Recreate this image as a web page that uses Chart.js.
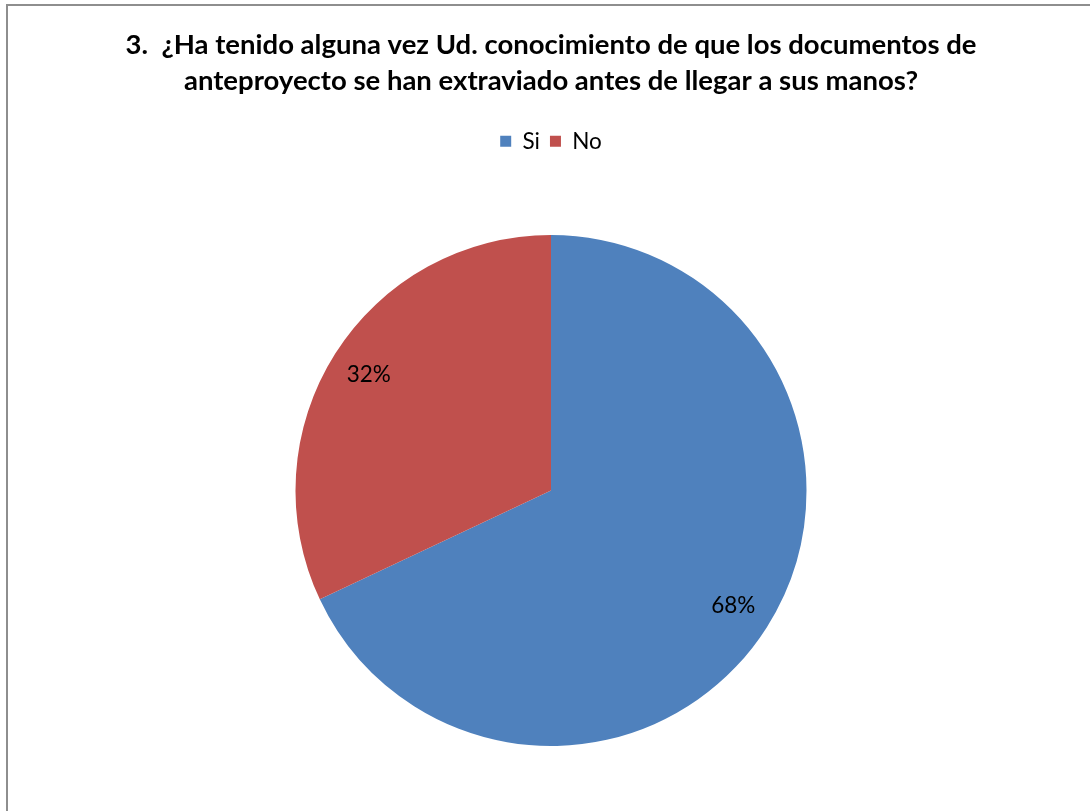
<!DOCTYPE html>
<html>
<head>
<meta charset="utf-8">
<script src="https://cdn.jsdelivr.net/npm/chart.js@4"></script>
<style>
  html, body { margin: 0; padding: 0; background: #fff; }
  #wrap { position: relative; width: 1090px; height: 811px; overflow: hidden; }
  #frame { position: absolute; left: 6px; top: 4px; width: 1200px; height: 900px;
           border-left: 2px solid #8e8e8e; border-top: 2px solid #8e8e8e; }
  canvas { position: absolute; left: 0; top: 0; }
</style>
</head>
<body>
<div id="wrap">
  <div id="frame"></div>
  <canvas id="chart" width="1090" height="811"></canvas>
</div>
<script>
// ── Data ─────────────────────────────────────────────────
const titleLines = [
  '3.  ¿Ha tenido alguna vez Ud. conocimiento de que los documentos de',
  'anteproyecto se han extraviado antes de llegar a sus manos?'
];
const categories = ['Si', 'No'];
const percents   = [68, 32];
const colors     = ['#4F81BD', '#C0504D'];

// ── Plugins ──────────────────────────────────────────────
// extra gap under the legend
const legendGap = {
  id: 'legendGap',
  beforeInit(chart) {
    const fit = chart.legend.fit;
    chart.legend.fit = function () { fit.bind(chart.legend)(); this.height += 72.5; };
  }
};

// percent labels inside the slices
const sliceLabels = {
  id: 'sliceLabels',
  afterDatasetsDraw(chart) {
    const { ctx } = chart;
    const meta = chart.getDatasetMeta(0);
    ctx.save();
    ctx.font = '22.5px Lato, "Open Sans", sans-serif';
    ctx.fillStyle = '#000';
    ctx.textAlign = 'center';
    ctx.textBaseline = 'middle';
    meta.data.forEach((arc, i) => {
      const p = arc.getProps(['x', 'y', 'startAngle', 'endAngle', 'outerRadius'], true);
      const mid = (p.startAngle + p.endAngle) / 2;
      const r = p.outerRadius * 0.845;
      ctx.fillText(percents[i] + '%', p.x + Math.cos(mid) * r, p.y + Math.sin(mid) * r);
    });
    ctx.restore();
  }
};

new Chart(document.getElementById('chart'), {
  type: 'pie',
  data: {
    labels: categories,
    datasets: [{ data: percents, backgroundColor: colors, borderWidth: 0 }]
  },
  options: {
    responsive: false,
    animation: false,
    layout: { padding: { left: 12, right: 0, top: 0, bottom: 65 } },
    plugins: {
      title: {
        display: true,
        text: titleLines,
        color: '#000',
        font: { family: 'Lato, "Open Sans", sans-serif', size: 27.5, weight: 'bold', lineHeight: 36 / 27.5 },
        padding: { top: 27, bottom: 21 }
      },
      legend: {
        position: 'top',
        labels: {
          color: '#000',
          boxWidth: 11, boxHeight: 11,
          padding: 10,
          font: { family: 'Lato, "Open Sans", sans-serif', size: 22.5 }
        }
      },
      tooltip: { enabled: false }
    }
  },
  plugins: [legendGap, sliceLabels]
});
</script>
</body>
</html>
